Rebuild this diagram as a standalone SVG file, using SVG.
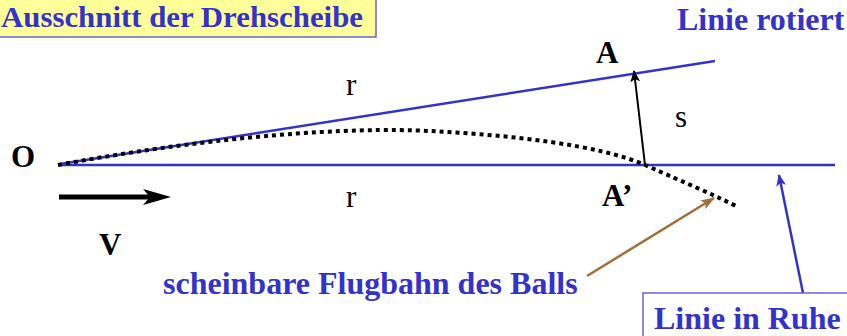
<svg xmlns="http://www.w3.org/2000/svg" width="847" height="336" viewBox="0 0 847 336">
<style>
.lbl{font-family:"Liberation Serif","Times New Roman",serif;font-weight:bold;fill:#3333CC;font-size:32px}
.blk{font-family:"Liberation Serif","Times New Roman",serif;font-weight:bold;fill:#000;font-size:31px}
.nrm{font-family:"Liberation Serif","Times New Roman",serif;fill:#000;font-size:31px}
.bl{stroke:#3333CC;stroke-width:2.5;fill:none}
</style>
<defs>
<marker id="ahb" markerWidth="12" markerHeight="10" refX="11" refY="5" orient="auto" markerUnits="userSpaceOnUse">
<path d="M0,0 L12,5 L0,10 L3,5 Z" fill="#3333CC"/>
</marker>
<marker id="ahk" markerWidth="12" markerHeight="10" refX="11" refY="5" orient="auto" markerUnits="userSpaceOnUse">
<path d="M0,0 L12,5 L0,10 L3,5 Z" fill="#000"/>
</marker>
<marker id="ahbr" markerWidth="14" markerHeight="10" refX="13" refY="5" orient="auto" markerUnits="userSpaceOnUse">
<path d="M0,0 L14,5 L0,10 L3,5 Z" fill="#A0703A"/>
</marker>
</defs>
<g id="title">
<rect x="-5" y="-5" width="381" height="42" fill="#FFFF99" stroke="#6666DD" stroke-width="1.5"/>
<text class="lbl" x="1" y="27" style="font-size:30px" textLength="362" lengthAdjust="spacingAndGlyphs">Ausschnitt der Drehscheibe</text>
</g>
<g id="lineRotiertLabel"><text class="lbl" x="677" y="30">Linie rotiert</text></g>
<g id="lines">
<line class="bl" x1="60" y1="164" x2="715" y2="61"/>
<line class="bl" x1="60" y1="165" x2="835" y2="165"/>
</g>
<g id="path">
<path d="M58,165 C220,135 350,127 430,131 S600,145 645,165 S710,193 738,207" fill="none" stroke="#000" stroke-width="4" stroke-dasharray="4 4"/>
</g>
<g id="labels">
<text class="blk" x="11" y="167">O</text>
<text class="blk" x="596" y="63">A</text>
<text class="blk" x="602" y="206">A’</text>
<text class="nrm" x="346" y="95">r</text>
<text class="nrm" x="346" y="207">r</text>
<text class="nrm" x="675" y="127">s</text>
<text class="blk" x="99" y="255">V</text>
</g>
<g id="connectors">
<line x1="645" y1="165" x2="634" y2="71" stroke="#000" stroke-width="2" marker-end="url(#ahk)"/>
<line x1="59" y1="197" x2="160" y2="197" stroke="#000" stroke-width="5"/>
<path d="M143,189 L171,197 L143,205 L150,197 Z" fill="#000"/>
<line x1="587" y1="276" x2="714" y2="198" stroke="#A0703A" stroke-width="2.5" marker-end="url(#ahbr)"/>
<line x1="803" y1="293" x2="779" y2="175" stroke="#3333CC" stroke-width="2.5" marker-end="url(#ahb)"/>
</g>
<g id="flugbahnLabel"><text class="lbl" x="163" y="294">scheinbare Flugbahn des Balls</text></g>
<g id="ruheLabel">
<rect x="643" y="293" width="210" height="50" fill="#fff" stroke="#6666DD" stroke-width="1.5"/>
<text class="lbl" x="654" y="329">Linie in Ruhe</text>
</g>
</svg>
